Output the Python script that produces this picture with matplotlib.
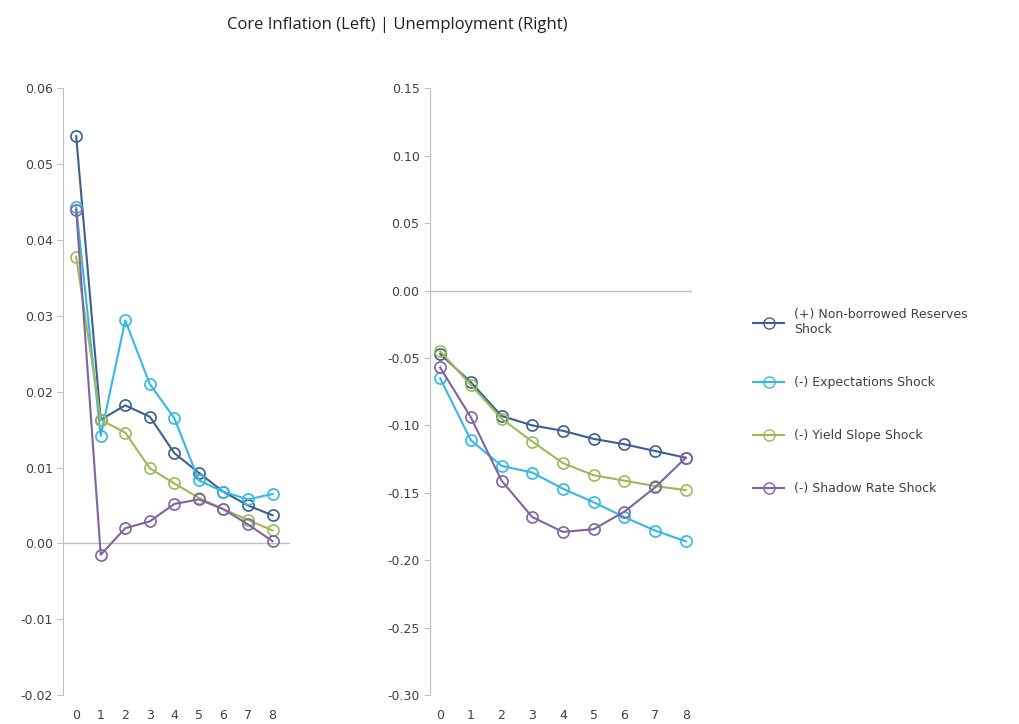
import matplotlib
matplotlib.use("Agg")
import matplotlib.pyplot as plt
from matplotlib.lines import Line2D

periods = list(range(9))
labels = ["(+) Non-borrowed Reserves\nShock", "(-) Expectations Shock", "(-) Yield Slope Shock", "(-) Shadow Rate Shock"]
colors = ["#3d5f8e", "#35b8e6", "#9bbb59", "#8064a2"]

infl_nbr = [0.0537, 0.0163, 0.0182, 0.0167, 0.0119, 0.0093, 0.0068, 0.0050, 0.0037]
infl_exp = [0.0443, 0.0142, 0.0294, 0.0210, 0.0165, 0.0083, 0.0068, 0.0058, 0.0065]
infl_yld = [0.0378, 0.0163, 0.0146, 0.0099, 0.0079, 0.0060, 0.0045, 0.0031, 0.0017]
infl_shd = [0.0440, -0.0015, 0.0020, 0.0029, 0.0052, 0.0058, 0.0045, 0.0025, 0.0003]

unemp_nbr = [-0.047, -0.068, -0.093, -0.100, -0.104, -0.110, -0.114, -0.119, -0.124]
unemp_exp = [-0.065, -0.111, -0.130, -0.135, -0.147, -0.157, -0.168, -0.178, -0.186]
unemp_yld = [-0.045, -0.070, -0.095, -0.112, -0.128, -0.137, -0.141, -0.145, -0.148]
unemp_shd = [-0.057, -0.094, -0.141, -0.168, -0.179, -0.177, -0.164, -0.146, -0.124]

fig = plt.figure(figsize=(10.19, 7.24), dpi=100)
ax1 = fig.add_axes([0.062, 0.040, 0.223, 0.838])
ax2 = fig.add_axes([0.422, 0.040, 0.257, 0.838])

def style(ax, series, ylim, yticks, xlim):
    for s, c in zip(series, colors):
        ax.plot(periods, s, color=c, lw=1.5, marker="o", ms=8, mfc="none", mec=c, mew=1.2)
    ax.axhline(0, color="#bfbfbf", lw=1, zorder=0)
    ax.set_xlim(*xlim)
    ax.set_ylim(*ylim)
    ax.set_yticks(yticks)
    ax.set_yticklabels([f"{t:.2f}" for t in yticks])
    ax.set_xticks(periods)
    for sp in ["top", "right", "bottom"]:
        ax.spines[sp].set_visible(False)
    ax.spines["left"].set_color("#bfbfbf")
    ax.tick_params(axis="y", length=4, color="#bfbfbf", labelsize=9, labelcolor="#404040")
    ax.tick_params(axis="x", length=0, labelsize=9, labelcolor="#404040", pad=10)

style(ax1, [infl_nbr, infl_exp, infl_yld, infl_shd], (-0.02, 0.06),
      [-0.02, -0.01, 0.0, 0.01, 0.02, 0.03, 0.04, 0.05, 0.06], (-0.53, 8.73))
style(ax2, [unemp_nbr, unemp_exp, unemp_yld, unemp_shd], (-0.30, 0.15),
      [-0.30, -0.25, -0.20, -0.15, -0.10, -0.05, 0.0, 0.05, 0.10, 0.15], (-0.33, 8.2))

handles = [Line2D([], [], color=c, lw=1.5, marker="o", ms=8, mfc="none", mec=c) for c in colors]
fig.legend(handles, labels, loc="upper left", bbox_to_anchor=(0.728, 0.59), frameon=False,
           fontsize=9, labelspacing=3.2, handlelength=2.5, labelcolor="#404040")

fig.text(0.39, 0.965, "Core Inflation (Left) | Unemployment (Right)", ha="center", va="center",
         fontsize=12, color="#202020", family="Open Sans")
fig.savefig("out.png", dpi=100)
